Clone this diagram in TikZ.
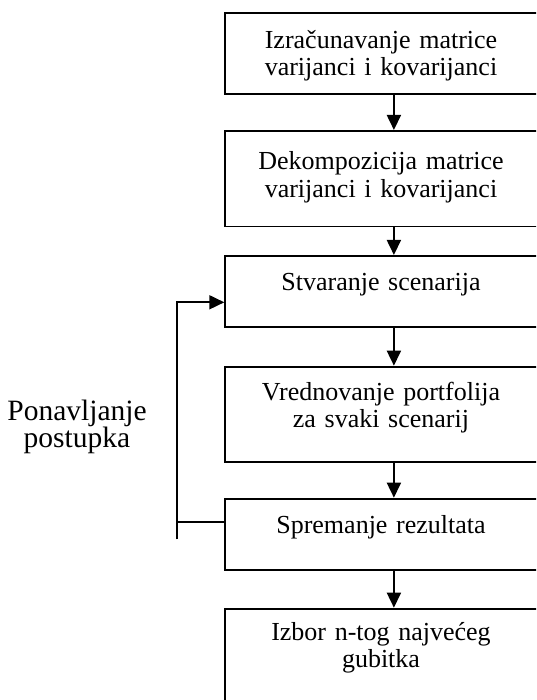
\documentclass[tikz,border=0pt]{standalone}
\usepackage{fontspec}
\setmainfont{Liberation Serif}
\usetikzlibrary{arrows.meta}
\tikzset{
  stepbox/.style={draw, line width=1.8pt, minimum width=314pt, anchor=north west, inner sep=0pt},
  boxtext/.style={font=\fontsize{26}{27.5}\selectfont, align=center, text width=300pt, anchor=base, inner sep=0pt},
  sidetext/.style={font=\fontsize{29.5}{26.5}\selectfont, align=center, text width=150pt, anchor=base, inner sep=0pt},
  arr/.style={line width=1.8pt, -{Triangle[width=14pt,length=15pt]}},
  plain/.style={line width=1.8pt}
}
\begin{document}
\begin{tikzpicture}[x=1pt,y=-1pt]
\useasboundingbox (0,0) rectangle (536,700);
\clip (0,0) rectangle (536,700);
\fill[white] (0,0) rectangle (536,700);
\node[stepbox, minimum height=81pt] (b1) at (224.3,12.3) {};
\node[stepbox, minimum height=95.7pt] (b2) at (224.3,130) {};
\node[stepbox, minimum height=70.7pt] (b3) at (224.3,255) {};
\node[stepbox, minimum height=95.3pt] (b4) at (224.3,365.7) {};
\node[stepbox, minimum height=71.3pt] (b5) at (224.3,497.7) {};
\node[stepbox, minimum height=110pt] (b6) at (224.3,607.7) {};
\node[boxtext] (t1) at (381,48.5) {Izračunavanje matrice\\varijanci i kovarijanci};
\node[boxtext] (t2) at (381,170) {Dekompozicija matrice\\varijanci i kovarijanci};
\node[boxtext] (t3) at (381,290) {Stvaranje scenarija};
\node[boxtext] (t4) at (381,400) {Vrednovanje portfolija\\za svaki scenarij};
\node[boxtext] (t5) at (381,533.3) {Spremanje rezultata};
\node[boxtext] (t6) at (381,640) {Izbor n-tog najvećeg\\gubitka};
\node[sidetext] (side) at (77,420) {Ponavljanje\\postupka};
\draw[arr] ([xshift=11.7pt]b1.south) -- ([xshift=11.7pt]b2.north);
\draw[arr] ([xshift=11.7pt]b2.south) -- ([xshift=11.7pt]b3.north);
\draw[arr] ([xshift=11.7pt]b3.south) -- ([xshift=11.7pt]b4.north);
\draw[arr] ([xshift=11.7pt]b4.south) -- ([xshift=11.7pt]b5.north);
\draw[arr] ([xshift=11.7pt]b5.south) -- ([xshift=11.7pt]b6.north);
\coordinate (fbtop) at (176.7,302.3);
\coordinate (fbbot) at (176.7,539.3);
\coordinate (fbj) at (176.7,521.7);
\draw[arr] (fbbot) -- (fbtop) -- (fbtop -| b3.west);
\draw[plain] (fbj -| b5.west) -- (fbj);
\end{tikzpicture}
\end{document}
